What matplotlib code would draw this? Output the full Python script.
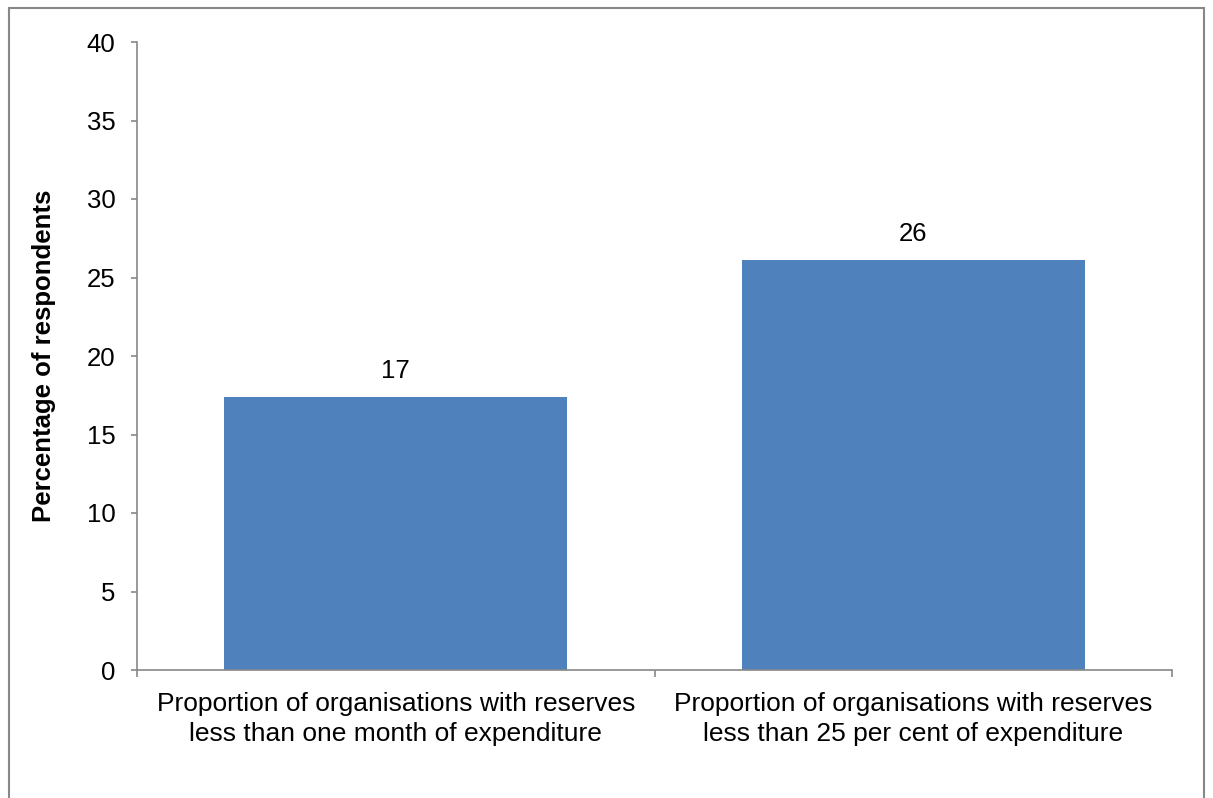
import matplotlib
matplotlib.use("Agg")
import matplotlib.pyplot as plt
from matplotlib.patches import Rectangle

categories = ["Proportion of organisations with reserves\nless than one month of expenditure",
              "Proportion of organisations with reserves\nless than 25 per cent of expenditure"]
values = [17.4, 26.1]
value_labels = ["17", "26"]
yticks = [0, 5, 10, 15, 20, 25, 30, 35, 40]

plt.rcParams['font.family'] = ['Liberation Sans', 'DejaVu Sans']

W, H = 1213, 798
fig = plt.figure(figsize=(W/100, H/100), dpi=100)
ax = fig.add_axes([137/W, 1-670/H, (1172-137)/W, (670-42)/H])

x = list(range(len(categories)))
ax.bar(x, values, width=0.663, color='#4F81BD', zorder=2)
for xi, v, lab in zip(x, values, value_labels):
    ax.text(xi, v + 0.9, lab, ha='center', va='bottom', fontsize=18.5)

ax.set_xlim(-0.5, 1.5)
ax.set_ylim(0, 40)
ax.set_yticks(yticks)
ax.set_yticklabels([str(t) for t in yticks], fontsize=18.5)
ax.set_xticks([-0.5, 0.5, 1.5])
ax.set_xticklabels([])
ax.set_xticks(x, minor=True)
ax.set_xticklabels(categories, minor=True, fontsize=19, linespacing=1.3)
ax.tick_params(axis='x', which='minor', length=0, pad=16)
ax.tick_params(axis='x', which='major', length=5, color='#888888', width=1.2)
ax.tick_params(axis='y', length=4.5, color='#888888', width=1.2, pad=11)

for s in ['top', 'right']:
    ax.spines[s].set_visible(False)
for s in ['left', 'bottom']:
    ax.spines[s].set_color('#888888')
    ax.spines[s].set_linewidth(1.2)

ax.set_ylabel("Percentage of respondents", fontsize=18.5, fontweight='bold', va='center')
ax.yaxis.set_label_coords((44 - 137)/(1172-137), 0.5)

fig.patches.append(Rectangle((9/W, -0.05), (1204-9)/W, 1.05 - 8/H, transform=fig.transFigure,
                             fill=False, edgecolor='#888888', linewidth=1.5))

fig.savefig("out.png", dpi=100)
